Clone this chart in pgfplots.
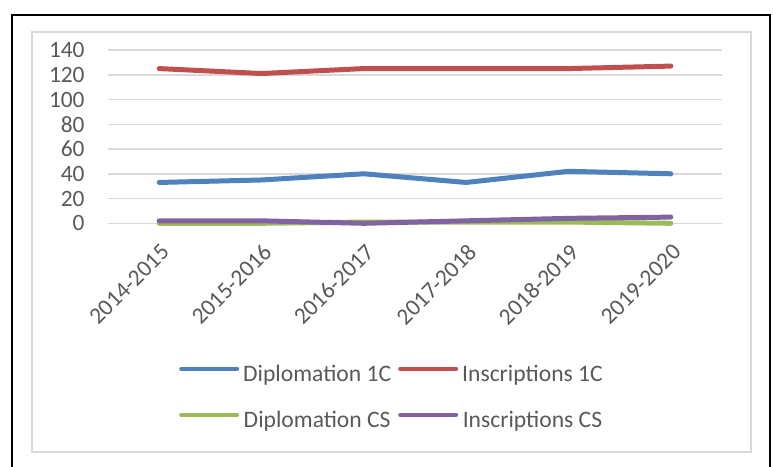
\documentclass[border=0pt]{standalone}
\usepackage{fontspec}
\setmainfont{Carlito}
\usepackage{pgfplots}
\pgfplotsset{compat=1.18}
\definecolor{cblue}{HTML}{4F81BD}
\definecolor{cred}{HTML}{C0504D}
\definecolor{cgreen}{HTML}{9BBB59}
\definecolor{cpurple}{HTML}{8064A2}
\definecolor{cgrid}{HTML}{D9D9D9}
\definecolor{ctext}{HTML}{595959}
\begin{document}
\begin{tikzpicture}
\useasboundingbox (0pt,0pt) rectangle (386.5pt,-233.5pt);
\draw[cgrid, line width=0.9pt] (16pt,-16pt) rectangle (375.5pt,-226pt);
\begin{axis}[
  at={(54pt,-111.65pt)}, anchor=south west,
  scale only axis, width=307pt, height=86.65pt,
  xmin=-0.5, xmax=5.5, ymin=0, ymax=140,
  clip=false,
  axis line style={draw=none},
  tick style={draw=none},
  ytick={0,20,...,140},
  xtick={0,1,2,3,4,5},
  xticklabels={2014-2015,2015-2016,2016-2017,2017-2018,2018-2019,2019-2020},
  ymajorgrids,
  major grid style={cgrid, line width=0.75pt},
  /pgf/number format/assume math mode=true,
  yticklabel style={font=\fontsize{11.7}{13}\selectfont, text=ctext, anchor=east, inner sep=0pt, xshift=-11.5pt},
  xticklabel style={font=\fontsize{11.7}{13}\selectfont, text=ctext, xshift=3.15pt, yshift=-12.35pt, rotate=45, anchor=east, inner sep=0pt},
  every axis plot/.append style={line width=2.5pt, line cap=round, line join=round},
  legend columns=2,
  legend image code/.code={\draw[#1, line width=2pt, line cap=round] (0pt,3.7pt) -- (28pt,3.7pt);},
  legend style={at={(0.4609,-1.014)}, anchor=center, draw=none, fill=none, inner sep=0pt,
    font=\fontsize{11.8}{13}\selectfont, text=ctext,
    nodes={inner sep=0pt, text height=8pt, text depth=2.5pt},
    row sep=12.5pt,
    /tikz/every odd column/.append style={column sep=2pt},
    /tikz/every even column/.append style={column sep=3.5pt}},
]
\addplot[cblue] coordinates {(0,33) (1,35) (2,40) (3,33) (4,42) (5,40)};
\addlegendentry{Diplomation 1C}
\addplot[cred] coordinates {(0,125) (1,121) (2,125) (3,125) (4,125) (5,127)};
\addlegendentry{Inscriptions 1C}
\addplot[cgreen] coordinates {(0,0) (1,0) (2,1) (3,1) (4,1) (5,0)};
\addlegendentry{Diplomation CS}
\addplot[cpurple] coordinates {(0,2) (1,2) (2,0) (3,2) (4,4) (5,5)};
\addlegendentry{Inscriptions CS}
\end{axis}
\draw[black, line width=1pt] (5.75pt,-7.5pt) rectangle (385pt,-240pt);
\end{tikzpicture}
\end{document}
